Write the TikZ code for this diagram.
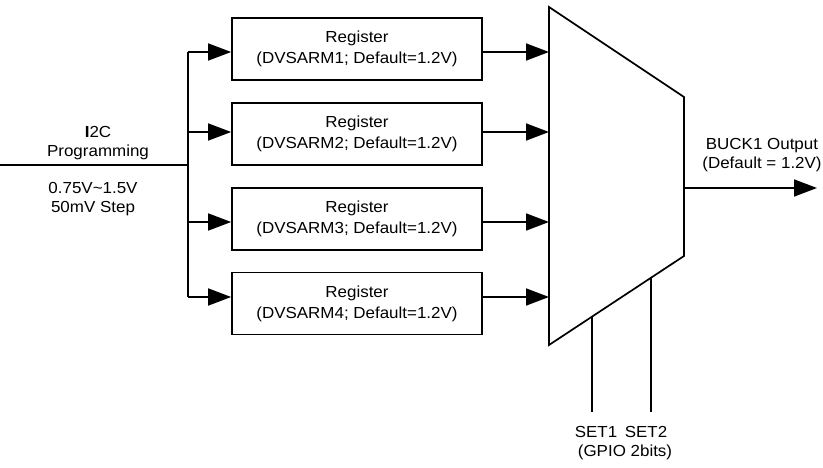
\documentclass[tikz,border=0pt]{standalone}
\usepackage{fontspec}
\setmainfont{Liberation Sans}[FakeStretch=1.06]
\usetikzlibrary{arrows.meta}
\begin{document}
\begin{tikzpicture}[x=1pt,y=-1pt,
  wire/.style={line width=1.7pt},
  arr/.style={wire,-{Triangle[length=23pt,width=17pt]}},
  regbox/.style={draw,line width=1.7pt,minimum width=250pt,minimum height=62pt,inner sep=0pt,align=center,font=\fontsize{16}{21}\selectfont},
  lbl/.style={inner sep=0pt,align=center,font=\fontsize{16}{19}\selectfont}]
\useasboundingbox (0,0) rectangle (823,468);
% registers
\node[regbox] (r1) at (357,49) {Register\\(DVSARM1; Default=1.2V)};
\node[regbox] (r2) at (357,134) {Register\\(DVSARM2; Default=1.2V)};
\node[regbox] (r3) at (357,219) {Register\\(DVSARM3; Default=1.2V)};
\node[regbox] (r4) at (357,303.5) {Register\\(DVSARM4; Default=1.2V)};
% mux
\coordinate (mtl) at (549,7);
\coordinate (mtr) at (684,97);
\coordinate (mbr) at (684,256);
\coordinate (mbl) at (549,345);
\draw[wire,line join=miter] (mtl) -- (mtr) -- (mbr) -- (mbl) -- cycle;
% bus
\coordinate (in) at (0,165);
\coordinate (bus) at (188,165);
\coordinate (b1) at (188,52);
\coordinate (b2) at (188,132);
\coordinate (b3) at (188,222);
\coordinate (b4) at (188,297);
\draw[wire] (in) -- (bus);
\draw[wire] (b1) -- (b4);
\foreach \i in {1,2,3,4}{
  \draw[arr] (b\i) -- (b\i -| r\i.west);
  \draw[arr] (b\i -| r\i.east) -- (b\i -| mtl);
}
% output
\coordinate (o1) at (684,188);
\coordinate (o2) at (817,188);
\draw[arr] (o1) -- (o2);
% select lines
\coordinate (s1t) at (592,316.7);
\coordinate (s1b) at (592,412);
\coordinate (s2t) at (651,277.8);
\coordinate (s2b) at (651,412);
\draw[wire] (s1t) -- (s1b);
\draw[wire] (s2t) -- (s2b);
% labels
\node[lbl,anchor=north] (t1) at (98,126) {\textbf{I}2C\\Programming};
\node[lbl,anchor=north] (t2) at (93,182) {0.75V\textasciitilde1.5V\\50mV Step};
\node[lbl,anchor=north] (t3) at (762,138) {BUCK1 Output\\(Default = 1.2V)};
\node[lbl,anchor=base] (t4) at (596,437) {SET1};
\node[lbl,anchor=base] (t5) at (646,437) {SET2};
\node[lbl,anchor=base] (t6) at (625,456) {(GPIO 2bits)};
\end{tikzpicture}
\end{document}
